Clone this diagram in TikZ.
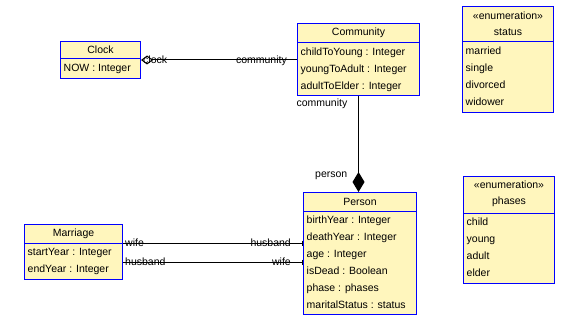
\documentclass[tikz,border=0pt]{standalone}
\usepackage{fontspec}
\setmainfont{Liberation Sans}
\usetikzlibrary{arrows.meta}

\definecolor{classfill}{RGB}{255,246,189}
\definecolor{classedge}{RGB}{0,0,255}

\tikzset{
  classbox/.style={draw=classedge, fill=classfill, line width=1pt, anchor=north west, inner sep=0pt},
  classrule/.style={draw=classedge, line width=1pt},
  classname/.style={font=\fontsize{10.5}{16}\selectfont, align=center, inner sep=0pt},
  attrs/.style={font=\fontsize{10.5}{17}\selectfont, align=left, anchor=north west, inner xsep=3.5pt, inner ysep=5pt},
  role/.style={font=\fontsize{10.5}{12}\selectfont, inner sep=0pt},
  assoc/.style={line width=1pt},
}

\begin{document}
\begin{tikzpicture}[x=1pt, y=-1pt]
    \useasboundingbox (0,0) rectangle (570,334);

    % Clock
    \node[classbox, minimum width=80, minimum height=37] (clock) at (60,41) {};
    \draw[classrule] ([yshift=-18pt]clock.north west) -- ([yshift=-18pt]clock.north east);
    \node[classname] (clockname) at ([yshift=-9pt]clock.north) {Clock};
    \node[attrs] (clockattrs) at ([yshift=-18pt]clock.north west) {NOW : Integer};

    % Community
    \node[classbox, minimum width=122, minimum height=72] (community) at (297,23) {};
    \draw[classrule] ([yshift=-20pt]community.north west) -- ([yshift=-20pt]community.north east);
    \node[classname] (communityname) at ([yshift=-10pt]community.north) {Community};
    \node[attrs] (communityattrs) at ([yshift=-20pt]community.north west)
        {childToYoung : Integer\\ youngToAdult : Integer\\ adultToElder : Integer};

    % Enumeration status
    \node[classbox, minimum width=91, minimum height=106] (status) at (462,6) {};
    \draw[classrule] ([yshift=-36pt]status.north west) -- ([yshift=-36pt]status.north east);
    \node[classname] (statusname) at ([yshift=-18pt]status.north) {«enumeration»\\ status};
    \node[attrs] (statusattrs) at ([yshift=-36pt]status.north west)
        {married\\ single\\ divorced\\ widower};

    % Enumeration phases
    \node[classbox, minimum width=91, minimum height=107] (phases) at (463,176) {};
    \draw[classrule] ([yshift=-37pt]phases.north west) -- ([yshift=-37pt]phases.north east);
    \node[classname] (phasesname) at ([yshift=-18pt]phases.north) {«enumeration»\\ phases};
    \node[attrs] (phasesattrs) at ([yshift=-37pt]phases.north west)
        {child\\ young\\ adult\\ elder};

    % Person
    \node[classbox, minimum width=113, minimum height=122] (person) at (303,192) {};
    \draw[classrule] ([yshift=-19pt]person.north west) -- ([yshift=-19pt]person.north east);
    \node[classname] (personname) at ([yshift=-9.5pt]person.north) {Person};
    \node[attrs] (personattrs) at ([yshift=-19pt]person.north west)
        {birthYear : Integer\\ deathYear : Integer\\ age : Integer\\ isDead : Boolean\\
         phase : phases\\ maritalStatus : status};

    % Marriage
    \node[classbox, minimum width=98, minimum height=55] (marriage) at (24,224) {};
    \draw[classrule] ([yshift=-19pt]marriage.north west) -- ([yshift=-19pt]marriage.north east);
    \node[classname] (marriagename) at ([yshift=-9.5pt]marriage.north) {Marriage};
    \node[attrs] (marriageattrs) at ([yshift=-19pt]marriage.north west)
        {startYear : Integer\\ endYear : Integer};

    % Clock -- Community (aggregation)
    \coordinate (clockend) at (clock.east -| community.west);
    \draw[assoc, {Diamond[open, length=12pt, width=9pt]}-] (clock.east) -- (clockend);
    \node[role, anchor=base west] (clocklabel) at ([xshift=2pt, yshift=-3.5pt]clock.east) {clock};
    \node[role, anchor=base east] (communitylabel) at ([xshift=-10pt, yshift=-3.5pt]clockend) {community};

    % Community -- Person (composition)
    \coordinate (personend) at (community.south |- person.north);
    \draw[assoc, -{Diamond[length=20pt, width=12pt]}] (community.south) -- (personend);
    \node[role, anchor=base east] (ownerlabel) at ([xshift=-11pt, yshift=-10.5pt]community.south) {community};
    \node[role, anchor=base east] (memberlabel) at ([xshift=-11pt, yshift=14.5pt]personend) {person};

    % Marriage -- Person (wife and husband)
    \coordinate (wifestart) at ([yshift=-19pt]marriage.north east);
    \coordinate (husbandstart) at ([yshift=-38pt]marriage.north east);
    \coordinate (wifeend) at (wifestart -| person.west);
    \coordinate (husbandend) at (husbandstart -| person.west);
    \draw[assoc, -{Bar[width=5pt]}] (wifestart) -- (wifeend);
    \draw[assoc, -{Bar[width=5pt]}] (husbandstart) -- (husbandend);
    \node[role, anchor=base west] (wifelabel) at ([xshift=2pt, yshift=-3.5pt]wifestart) {wife};
    \node[role, anchor=base east] (husbandlabel) at ([xshift=-12pt, yshift=-3.5pt]wifeend) {husband};
    \node[role, anchor=base west] (husbandlabelb) at ([xshift=2pt, yshift=-3.5pt]husbandstart) {husband};
    \node[role, anchor=base east] (wifelabelb) at ([xshift=-12pt, yshift=-3.5pt]husbandend) {wife};

\end{tikzpicture}
\end{document}
